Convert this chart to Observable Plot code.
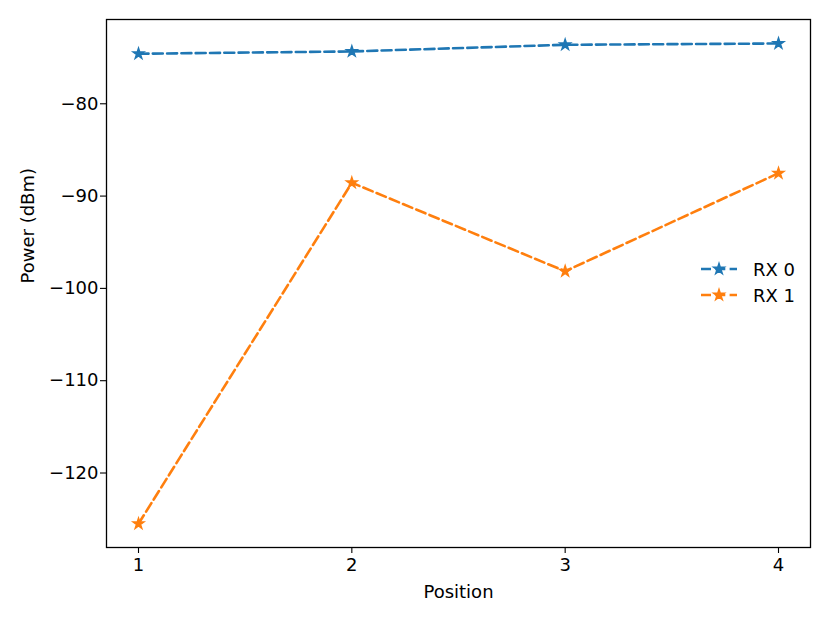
<!DOCTYPE html>
<html>
<head>
<meta charset="utf-8">
<script src="https://cdn.jsdelivr.net/npm/d3@7"></script>
<script src="https://cdn.jsdelivr.net/npm/@observablehq/plot@0.6"></script>
<style>
  html, body { margin: 0; padding: 0; background: #fff; }
  #wrap { position: relative; width: 830px; height: 623px; font-family: "DejaVu Sans", sans-serif; }
  #legend { position: absolute; left: 0; top: 0; pointer-events: none; }
</style>
</head>
<body>
<div id="wrap"></div>
<script>
const positions = [1, 2, 3, 4];
const rx0 = [-74.58, -74.33, -73.61, -73.47];
const rx1 = [-125.5, -88.56, -98.14, -87.52];
const seriesNames = ["RX 0", "RX 1"];
const seriesColors = ["#1f77b4", "#ff7f0e"];
const xTicks = [1, 2, 3, 4];
const yTicks = [-120, -110, -100, -90, -80];
const xLabel = ["Position"];
const yLabel = ["Power (dBm)"];

const data = [];
positions.forEach((p, i) => {
  data.push({series: seriesNames[0], x: p, y: rx0[i]});
  data.push({series: seriesNames[1], x: p, y: rx1[i]});
});

const fmt = d => d < 0 ? "\u2212" + Math.abs(d) : String(d);
const FS = 18;
const dash = "10,4.3";

const chart = Plot.plot({
  width: 830,
  height: 623,
  marginLeft: 106,
  marginRight: 20,
  marginTop: 19,
  marginBottom: 76,
  style: {fontFamily: "DejaVu Sans, sans-serif", fontSize: FS + "px", background: "white", color: "black"},
  x: {domain: [0.85, 4.15]},
  y: {domain: [-128.07, -70.87]},
  color: {domain: seriesNames, range: seriesColors},
  marks: [
    Plot.axisX({ticks: xTicks, tickSize: 6, tickPadding: 5, tickFormat: fmt, fontSize: FS, label: null, strokeWidth: 1.1}),
    Plot.axisY({ticks: yTicks, tickSize: 6, tickPadding: 2, tickFormat: fmt, fontSize: FS, label: null, strokeWidth: 1.1}),
    Plot.line(data, {x: "x", y: "y", z: "series", stroke: "series", strokeWidth: 2.6, strokeDasharray: dash}),
    Plot.dot(data, {x: "x", y: "y", fill: "series", stroke: "series", strokeWidth: 1.4, symbol: "star", r: 3.4}),
    Plot.frame({stroke: "black", strokeWidth: 1.3}),
    Plot.text(xLabel, {text: d => d, frameAnchor: "bottom", dy: 50, fontSize: FS, fill: "black"}),
    Plot.text(yLabel, {text: d => d, frameAnchor: "left", dx: -78, rotate: -90, fontSize: FS, fill: "black"})
  ]
});

const wrap = document.getElementById("wrap");
wrap.appendChild(chart);

// Legend overlay
const leg = d3.select(wrap).append("svg")
  .attr("id", "legend")
  .attr("width", 830).attr("height", 623);
const rowY = [269, 295];
seriesNames.forEach((name, i) => {
  const g = leg.append("g").attr("transform", `translate(0,${rowY[i]})`);
  g.append("line").attr("x1", 701).attr("x2", 737).attr("y1", 0).attr("y2", 0)
    .attr("stroke", seriesColors[i]).attr("stroke-width", 2.6).attr("stroke-dasharray", dash);
  g.append("path").attr("d", d3.symbol(d3.symbolStar, Math.PI * 3.4 * 3.4)())
    .attr("transform", "translate(719,0)")
    .attr("fill", seriesColors[i]).attr("stroke", seriesColors[i]).attr("stroke-width", 1.4);
  g.append("text").attr("x", 753).attr("y", 0).attr("dy", "0.38em")
    .attr("font-size", FS).attr("font-family", "DejaVu Sans, sans-serif").attr("fill", "black")
    .text(name);
});
</script>
</body>
</html>
